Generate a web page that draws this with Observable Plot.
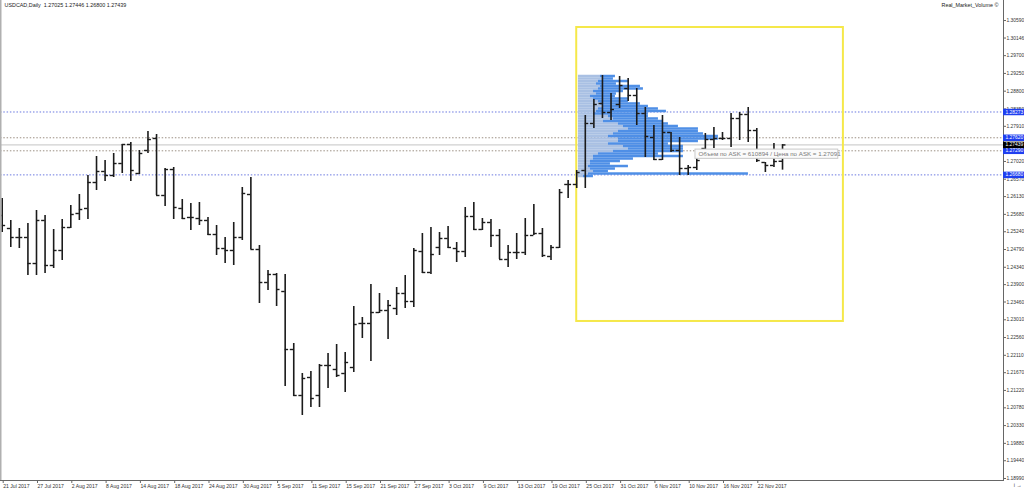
<!DOCTYPE html>
<html><head><meta charset="utf-8">
<script src="https://cdn.jsdelivr.net/npm/d3@7"></script>
<script src="https://cdn.jsdelivr.net/npm/@observablehq/plot@0.6"></script>
<style>
html,body{margin:0;padding:0;background:#fff;}
#chart{width:1024px;height:489px;overflow:hidden;}
svg{font-family:"Liberation Sans",Arial,sans-serif;}
</style></head><body><div id="chart"></div>
<script>
// ---------- data ----------
const titleText = "USDCAD,Daily  1.27025 1.27446 1.26800 1.27439";
const indicatorName = "Real_Market_Volume ©";
const dateLabels = ["21 Jul 2017","27 Jul 2017","2 Aug 2017","8 Aug 2017","14 Aug 2017","18 Aug 2017","24 Aug 2017","30 Aug 2017","5 Sep 2017","11 Sep 2017","15 Sep 2017","21 Sep 2017","27 Sep 2017","3 Oct 2017","9 Oct 2017","13 Oct 2017","19 Oct 2017","25 Oct 2017","31 Oct 2017","6 Nov 2017","10 Nov 2017","16 Nov 2017","22 Nov 2017"];
const dateLabelBars = [0,4,8,12,16,20,24,28,32,36,40,44,48,52,56,60,64,68,72,76,80,84,88];

const opens = [1.25651,1.25322,1.25094,1.25094,1.24435,1.25525,1.24385,1.24765,1.25347,1.25702,1.25829,1.26487,1.26766,1.26664,1.26968,1.27450,1.26715,1.27298,1.27602,1.26158,1.26816,1.25829,1.25601,1.25575,1.25525,1.25170,1.24815,1.24765,1.25094,1.26183,1.24790,1.23954,1.24157,1.23726,1.22257,1.21092,1.21548,1.21092,1.21852,1.21751,1.21649,1.21801,1.22916,1.22916,1.23194,1.23245,1.23296,1.23676,1.23473,1.24739,1.24208,1.24841,1.25069,1.24815,1.24739,1.25626,1.25297,1.25474,1.25145,1.24537,1.24714,1.24714,1.25145,1.25195,1.24613,1.24841,1.26437,1.26437,1.26791,1.27982,1.28488,1.28260,1.28463,1.28868,1.28691,1.28235,1.27627,1.27070,1.27754,1.27298,1.26842,1.26867,1.27348,1.27576,1.27602,1.27602,1.28108,1.28210,1.27804,1.26994,1.26918,1.27025];
const highs = [1.26082,1.25525,1.25322,1.25449,1.25778,1.25651,1.25297,1.25550,1.25905,1.26183,1.26664,1.27146,1.27044,1.27222,1.27450,1.27500,1.27298,1.27779,1.27703,1.26842,1.26867,1.26057,1.25955,1.25981,1.25601,1.25398,1.25094,1.25474,1.26361,1.26614,1.24891,1.24258,1.24182,1.24157,1.22409,1.21649,1.21700,1.21877,1.22156,1.22384,1.22181,1.23346,1.23068,1.23904,1.23676,1.23498,1.23828,1.24131,1.24815,1.25195,1.25347,1.25221,1.25373,1.24967,1.25854,1.25981,1.25575,1.25550,1.25297,1.24891,1.25195,1.25575,1.25930,1.25322,1.24891,1.26310,1.26538,1.26791,1.28184,1.28589,1.29197,1.28741,1.29172,1.29121,1.28868,1.28387,1.27931,1.28184,1.27754,1.27627,1.26918,1.27120,1.27728,1.27880,1.27754,1.28235,1.28260,1.28387,1.27855,1.26994,1.27475,1.27446];
const lows = [1.25221,1.24841,1.24815,1.24131,1.24131,1.24182,1.24309,1.24512,1.25322,1.25525,1.25550,1.26285,1.26512,1.26614,1.26715,1.26512,1.26690,1.27222,1.26158,1.25879,1.25550,1.25550,1.25271,1.25398,1.25145,1.24638,1.24435,1.24385,1.25018,1.24790,1.23422,1.23752,1.23346,1.21320,1.21067,1.20586,1.20788,1.20788,1.21269,1.21548,1.21168,1.21675,1.22536,1.21953,1.23169,1.22510,1.23118,1.23296,1.23321,1.24182,1.24157,1.24638,1.24815,1.24461,1.24587,1.25271,1.25271,1.24841,1.24537,1.24334,1.24537,1.24638,1.25145,1.24587,1.24512,1.24815,1.26082,1.26335,1.26335,1.27855,1.28108,1.28058,1.28362,1.28539,1.27931,1.27120,1.27044,1.27044,1.27247,1.26664,1.26664,1.26791,1.27323,1.27348,1.27551,1.27374,1.27551,1.27500,1.26994,1.26740,1.26867,1.26800];
const closes = [1.25398,1.25094,1.25094,1.24435,1.25525,1.24385,1.24765,1.25347,1.25677,1.25803,1.26487,1.26766,1.26664,1.26968,1.27450,1.26791,1.27222,1.27576,1.26158,1.26816,1.25854,1.25575,1.25601,1.25525,1.25170,1.24815,1.24765,1.25094,1.26209,1.24790,1.23954,1.24157,1.23777,1.22257,1.21092,1.21523,1.21016,1.21852,1.21852,1.21599,1.21928,1.22890,1.22916,1.23194,1.23245,1.23372,1.23676,1.23473,1.24765,1.24208,1.24663,1.25069,1.24841,1.24739,1.25626,1.25297,1.25474,1.25145,1.24537,1.24714,1.24714,1.25145,1.25195,1.24638,1.24841,1.26234,1.26437,1.26740,1.27982,1.28463,1.28260,1.28336,1.28944,1.28691,1.28235,1.27652,1.27070,1.27754,1.27298,1.26842,1.26867,1.27044,1.27576,1.27602,1.27602,1.28108,1.28210,1.27804,1.27044,1.26918,1.27019,1.27439];

const priceTicks = [1.18990,1.19440,1.19880,1.20330,1.20780,1.21220,1.21670,1.22110,1.22560,1.23010,1.23460,1.23900,1.24340,1.24790,1.25240,1.25680,1.26130,1.26570,1.27020,1.27910,1.28350,1.28800,1.29250,1.29700,1.30146,1.30590];

const levelPrices = [1.28273,1.27620,1.27290,1.26680];
const levelKinds  = ["blue","gray","gray","blue"];
const lastPrice = 1.27439;

// volume profile (volumes in thousands)
const profilePrices = [1.29172,1.29109,1.29045,1.28982,1.28919,1.28856,1.28792,1.28729,1.28666,1.28602,1.28539,1.28476,1.28412,1.28349,1.28286,1.28222,1.28159,1.28096,1.28032,1.27969,1.27906,1.27842,1.27779,1.27716,1.27652,1.27589,1.27526,1.27462,1.27399,1.27336,1.27272,1.27209,1.27146,1.27082,1.27019,1.26956,1.26892,1.26829,1.26766,1.26702,1.26639];
const profileBid = [220,250,200,180,220,200,150,180,120,150,200,220,250,200,180,150,300,350,250,400,450,500,400,350,300,400,400,300,450,500,350,200,150,150,120,120,100,120,150,100,50];
const profileAsk = [150,100,300,200,400,450,300,200,250,350,300,400,450,600,700,550,400,450,600,500,550,700,800,900,1100,1000,800,600,600,550,700,600,900,400,300,200,400,250,150,1600,100];

// yellow range box and tooltip
const boxStartBar = 67.0, boxEndBar = 98.1, boxHigh = 1.30413, boxLow = 1.22967;
const profileStartBar = 67.2;
const tooltipText = "Объем по ASK = 610894 / Цена по ASK = 1.27091";
const tooltipPrice = 1.27091, tooltipBar = 81.2;

// ---------- build ----------
const bars = opens.map((o,i)=>({i, o, h:highs[i], l:lows[i], c:closes[i]}));
const rows = profilePrices.map((p,i)=>({p, bid:profileBid[i], ask:profileAsk[i]}));
const levels = levelPrices.map((p,i)=>({p, kind:levelKinds[i]}));
const volPerBar = 85.75;      // thousand lots per bar width
const rowHalf = 0.000316;
const tickLen = 0.4;
const xDomain = [-0.198, 116.77];
const yDomain = [1.18939, 1.31097];
const pxPerBar = 1003 / (xDomain[1]-xDomain[0]);
const labelEnd = xDomain[1] + 21/pxPerBar;
const labelMap = new Map(dateLabelBars.map((b,i)=>[b, dateLabels[i]]));
const FS = 4.9;

const chart = Plot.plot({
  width: 1024, height: 489,
  marginLeft: 0, marginRight: 21, marginTop: 0, marginBottom: 9,
  style: {fontFamily: "'Liberation Sans', Arial, sans-serif", background: "#fff"},
  x: {domain: xDomain, axis: null},
  y: {domain: yDomain, axis: null},
  marks: [
    // level lines
    Plot.ruleY(levels.filter(d=>d.kind==="blue"), {y: "p", stroke: "#6a78e0", strokeWidth: 1, strokeDasharray: "1.5,1.8"}),
    Plot.ruleY(levels.filter(d=>d.kind==="gray"), {y: "p", stroke: "#9c9084", strokeWidth: 1, strokeDasharray: "1.5,1.8"}),
    Plot.ruleY([lastPrice], {stroke: "#c4c4c4", strokeWidth: 1}),
    // volume profile
    Plot.rect(rows, {x1: profileStartBar, x2: d=>profileStartBar + d.bid/volPerBar, y1: d=>d.p-rowHalf, y2: d=>d.p+rowHalf, fill: "#a9c0e3"}),
    Plot.rect(rows, {x1: d=>profileStartBar + d.bid/volPerBar, x2: d=>profileStartBar + (d.bid+d.ask)/volPerBar, y1: d=>d.p-rowHalf, y2: d=>d.p+rowHalf, fill: "#4f8fe6"}),
    // yellow box
    Plot.rect([{}], {x1: boxStartBar, x2: boxEndBar, y1: boxLow, y2: boxHigh, fill: "none", stroke: "#f5e84a", strokeWidth: 2}),
    // OHLC bars
    Plot.ruleX(bars, {x: "i", y1: "l", y2: "h", stroke: "#1b1b1b", strokeWidth: 1.6}),
    Plot.ruleY(bars, {y: "o", x1: d=>d.i-tickLen, x2: "i", stroke: "#1b1b1b", strokeWidth: 1.4}),
    Plot.ruleY(bars, {y: "c", x1: "i", x2: d=>d.i+tickLen, stroke: "#1b1b1b", strokeWidth: 1.4}),
    // tooltip
    Plot.rect([{}], {x1: tooltipBar-0.35, x2: tooltipBar+16.3, y1: tooltipPrice-0.00005, y2: tooltipPrice+0.0023, fill: "#fbfbfb", stroke: "#c9c9c9", strokeWidth: 1}),
    Plot.text([tooltipText], {x: tooltipBar, y: tooltipPrice, dy: -4.5, textAnchor: "start", fontSize: 6.2, fill: "#7a7a7a"}),
    // frame lines
    Plot.frame({anchor: "bottom", stroke: "#666"}),
    Plot.frame({anchor: "right", stroke: "#666"}),
    Plot.ruleX([xDomain[0]], {stroke: "#b0b0b0", strokeWidth: 2}),
    // axes
    Plot.axisY(priceTicks, {anchor: "right", tickSize: 2, tickPadding: 1, tickFormat: d=>d.toFixed(5), fontSize: FS, fill: "#333", stroke: "#666"}),
    Plot.axisX(dateLabelBars, {anchor: "bottom", tickSize: 3, tickPadding: 1, tickFormat: d=>labelMap.get(d), textAnchor: "start", dx: 1, fontSize: 5.1, fill: "#333", stroke: "#666"}),
    // price label boxes on right axis
    Plot.ruleY(levels, {y: "p", x1: xDomain[1], x2: labelEnd, stroke: "#1f3ff0", strokeWidth: 6.5}),
    Plot.ruleY([lastPrice], {x1: xDomain[1], x2: labelEnd, stroke: "#000", strokeWidth: 6.5}),
    Plot.text(levels, {y: "p", x: xDomain[1], dx: 2, text: d=>d.p.toFixed(5), textAnchor: "start", fontSize: FS, fill: "#fff"}),
    Plot.text([lastPrice], {y: d=>d, x: xDomain[1], dx: 2, text: d=>d.toFixed(5), textAnchor: "start", fontSize: FS, fill: "#fff"}),
    // titles
    Plot.text([titleText], {frameAnchor: "top-left", dx: 4, dy: 3, textAnchor: "start", lineAnchor: "top", fontSize: 5.4, fill: "#222"}),
    Plot.text([indicatorName], {frameAnchor: "top-right", dx: -5, dy: 3, textAnchor: "end", lineAnchor: "top", fontSize: 5.4, fill: "#222"})
  ]
});
document.getElementById("chart").appendChild(chart);
</script>
</body></html>
